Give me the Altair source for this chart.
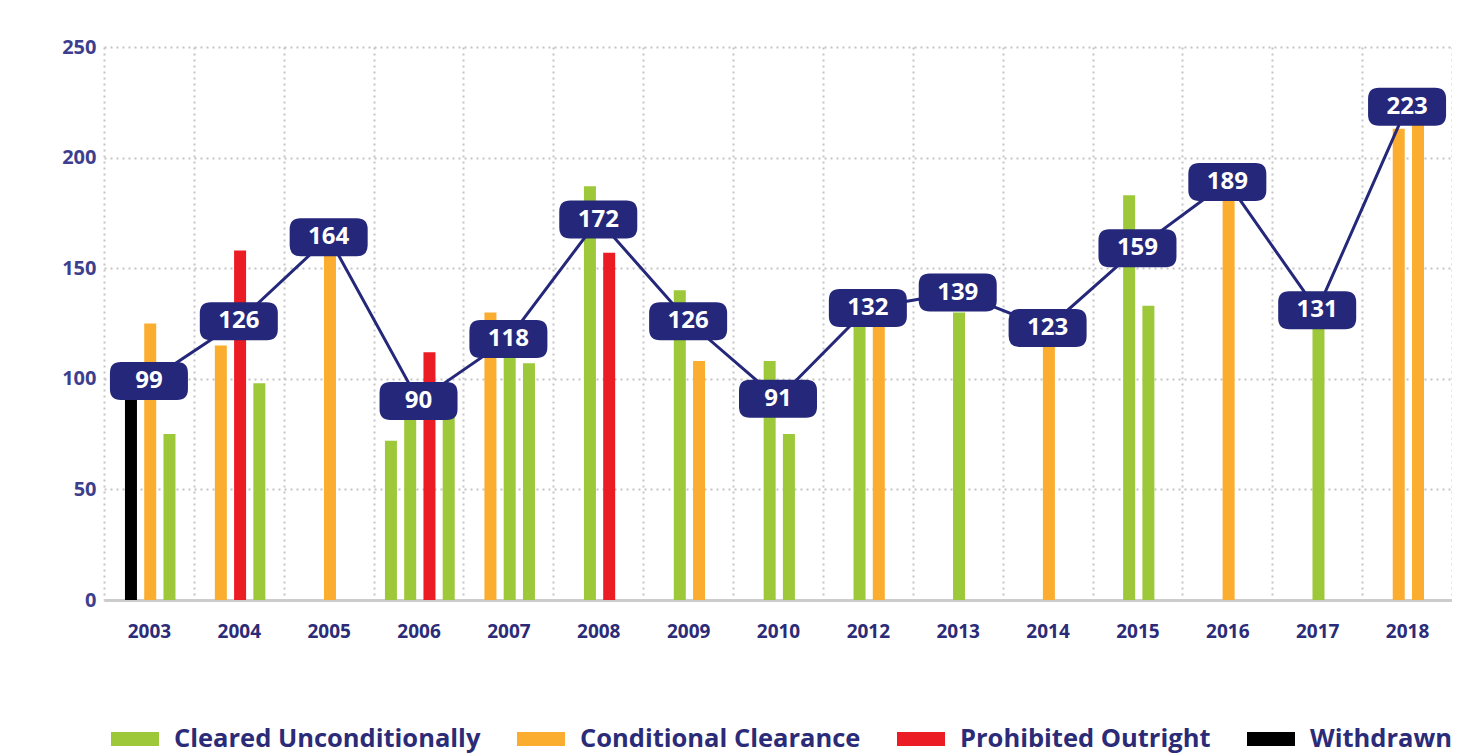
import altair as alt
import pandas as pd

years = ["2003", "2004", "2005", "2006", "2007", "2008", "2009", "2010",
         "2012", "2013", "2014", "2015", "2016", "2017", "2018"]
totals = [99, 126, 164, 90, 118, 172, 126, 91, 132, 139, 123, 159, 189, 131, 223]

CU, CC, PO, WD = ("Cleared Unconditionally", "Conditional Clearance",
                  "Prohibited Outright", "Withdrawn")
statuses = [CU, CC, PO, WD]
status_colors = ["#9dc83a", "#fbad30", "#ec1c24", "#000000"]

bar_status = [
    [WD, CC, CU],          # 2003
    [CC, PO, CU],          # 2004
    [CC],                  # 2005
    [CU, CU, PO, CU],      # 2006
    [CC, CU, CU],          # 2007
    [CU, PO],              # 2008
    [CU, CC],              # 2009
    [CU, CU],              # 2010
    [CU, CC],              # 2012
    [CU],                  # 2013
    [CC],                  # 2014
    [CU, CU],              # 2015
    [CC],                  # 2016
    [CU],                  # 2017
    [CC, CC],              # 2018
]
bar_values = [
    [95, 125, 75],
    [115, 158, 98],
    [158],
    [72, 85, 112, 86],
    [130, 115, 107],
    [187, 157],
    [140, 108],
    [108, 75],
    [126, 126],
    [130],
    [115],
    [183, 133],
    [182],
    [125],
    [213, 218],
]

rows = []
order = 0
for y, sts, vals in zip(years, bar_status, bar_values):
    for s, v in zip(sts, vals):
        rows.append({"year": y, "status": s, "value": v, "order": order})
        order += 1
bars_df = pd.DataFrame(rows)
tot_df = pd.DataFrame({"year": years, "total": totals})

NAVY = "#24277a"
FONT = "Open Sans"

xscale = alt.Scale(domain=years, paddingInner=0, paddingOuter=0)
yscale = alt.Scale(domain=[0, 250])

x_enc = alt.X("year:N", scale=xscale, sort=years, title=None,
              axis=alt.Axis(tickBand="extent", ticks=False, labelAngle=0,
                            labelFont=FONT, labelFontSize=19, labelFontWeight="bold",
                            labelColor="#2b2b78", labelPadding=22,
                            domainColor="#cccccc", domainWidth=3,
                            grid=True, gridColor="#c4c4c4", gridDash=[2, 4],
                            gridWidth=2))
y_enc = alt.Y("value:Q", scale=yscale, title=None,
              axis=alt.Axis(values=[0, 50, 100, 150, 200, 250], ticks=False,
                            domain=False, labelFont=FONT, labelFontSize=20,
                            labelFontWeight="bold", labelColor="#3d3f8e",
                            labelPadding=8, grid=True, gridColor="#c4c4c4",
                            gridDash=[2, 4], gridWidth=2))

bars = alt.Chart(bars_df).transform_window(
    idx="row_number()", groupby=["year"], sort=[alt.SortField("order")]
).transform_joinaggregate(
    n="count()", groupby=["year"]
).transform_calculate(
    pos="datum.idx - (datum.n + 1) / 2"
).mark_rule(strokeWidth=12, strokeCap="butt").encode(
    x=x_enc,
    xOffset=alt.XOffset("pos:Q", scale=alt.Scale(domain=[-2.4, 2.266])),
    y=y_enc,
    y2=alt.datum(0),
    color=alt.Color("status:N",
                    scale=alt.Scale(domain=statuses, range=status_colors),
                    legend=alt.Legend(title=None, orient="bottom", direction="horizontal",
                                      symbolType="stroke", symbolSize=2304,
                                      symbolStrokeWidth=14, labelFont=FONT,
                                      labelFontSize=25.5, labelFontWeight="bold",
                                      labelColor="#2b2b78", labelOffset=8,
                                      columnPadding=8, offset=67, labelLimit=500)),
)

line = alt.Chart(tot_df).mark_line(color=NAVY, strokeWidth=3).encode(
    x=alt.X("year:N", scale=xscale, sort=years),
    y=alt.Y("total:Q", scale=yscale),
)

box_path = ("M -0.72,-0.487 L 0.72,-0.487 Q 1,-0.487 1,-0.207 L 1,0.207 "
            "Q 1,0.487 0.72,0.487 L -0.72,0.487 Q -1,0.487 -1,0.207 "
            "L -1,-0.207 Q -1,-0.487 -0.72,-0.487 Z")
boxes = alt.Chart(tot_df).mark_point(shape=box_path, size=6084, filled=True,
                                     color=NAVY, opacity=1, strokeWidth=0).encode(
    x=alt.X("year:N", scale=xscale, sort=years),
    y=alt.Y("total:Q", scale=yscale),
)
labels = alt.Chart(tot_df).mark_text(color="white", font=FONT, fontSize=24,
                                     fontWeight="bold", baseline="middle").encode(
    x=alt.X("year:N", scale=xscale, sort=years),
    y=alt.Y("total:Q", scale=yscale),
    text="total:Q",
)

chart = alt.layer(bars, line, boxes, labels).properties(
    width=1348, height=553,
    padding={"left": 53, "top": 29, "right": 0, "bottom": 0},
).configure_view(stroke=None)

chart.save("out.html", embed_options={"renderer": "svg", "actions": False})
